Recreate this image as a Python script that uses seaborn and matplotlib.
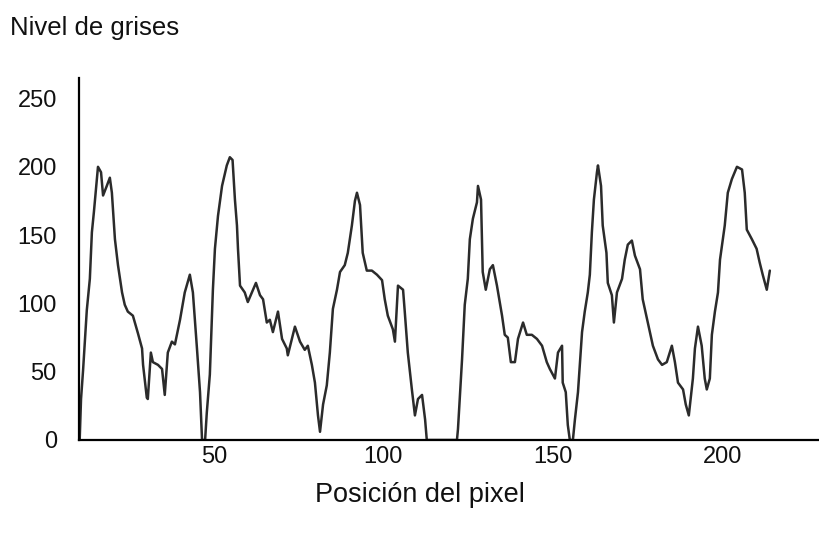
import matplotlib
matplotlib.use("Agg")
import matplotlib.pyplot as plt
import seaborn as sns
import pandas as pd

# Pixel position along the profile and grey level
posicion = [10.4, 10.8, 11.4, 12.5, 13.4, 14.0, 14.6, 15.5, 15.8, 16.7, 17.3, 18.4, 19.3, 19.9,
            20.8, 21.7, 22.9, 23.7, 24.6, 26.1, 27.6, 28.8, 29.1, 30.2, 30.5, 31.4, 32.0, 33.5,
            34.7, 35.5, 36.4, 37.6, 38.5, 40.0, 41.4, 42.9, 43.8, 45.0, 45.9, 46.5, 47.4, 47.9,
            48.8, 49.7, 50.3, 51.2, 52.4, 53.8, 54.7, 55.5, 56.2, 56.8, 57.1, 57.7, 59.1, 60.0,
            61.2, 62.4, 63.6, 64.5, 65.6, 66.5, 67.4, 68.9, 70.1, 71.5, 71.8, 73.9, 75.4, 76.8,
            77.7, 78.9, 79.8, 80.7, 81.3, 82.2, 83.3, 84.2, 85.1, 86.3, 87.2, 88.6, 89.5, 90.7,
            91.6, 92.2, 93.1, 93.9, 95.1, 96.6, 98.1, 99.6, 100.4, 101.3, 102.8, 103.4, 104.3,
            105.8, 106.3, 107.2, 108.4, 109.3, 110.2, 111.4, 112.3, 112.8, 121.7, 122.0, 123.2,
            124.0, 124.9, 125.5, 126.4, 127.6, 127.9, 128.8, 129.3, 130.2, 131.4, 132.3, 133.5,
            135.0, 135.8, 136.7, 137.6, 138.8, 139.7, 141.2, 142.3, 143.8, 145.3, 146.8, 148.2,
            149.1, 150.6, 151.5, 152.7, 152.9, 153.8, 154.4, 155.0, 155.9, 156.5, 157.4, 158.6,
            159.4, 160.3, 160.9, 161.5, 162.1, 163.0, 163.3, 164.2, 164.7, 165.8, 166.2, 167.4,
            168.0, 168.9, 170.4, 171.2, 172.1, 173.3, 174.2, 175.7, 176.5, 178.0, 179.5, 181.0,
            182.2, 183.6, 185.1, 186.0, 186.9, 188.4, 189.2, 190.1, 191.3, 191.9, 192.8, 193.9,
            194.8, 195.4, 196.3, 196.9, 197.8, 198.7, 199.3, 200.7, 201.6, 202.8, 204.3, 205.8,
            206.6, 207.2, 208.7, 210.1, 211.0, 211.9, 213.1, 214.0]
nivel = [0, 30, 51, 95, 118, 152, 167, 192, 200, 196, 179, 186, 192, 181,
         147, 128, 108, 99, 94, 91, 78, 67, 55, 31, 30, 64, 57, 55,
         52, 33, 64, 72, 70, 88, 108, 121, 108, 67, 35, 0, 0, 20,
         48, 110, 140, 164, 186, 201, 207, 205, 176, 157, 140, 113, 108, 101,
         108, 115, 106, 103, 86, 88, 79, 94, 74, 67, 62, 83, 72, 66,
         69, 55, 42, 18, 6, 26, 40, 64, 96, 110, 123, 128, 137, 157,
         175, 181, 172, 137, 124, 124, 121, 117, 103, 91, 81, 72, 113,
         110, 94, 64, 37, 18, 30, 33, 15, 0, 0, 8, 59,
         99, 118, 147, 162, 174, 186, 176, 123, 110, 125, 128, 113,
         91, 77, 75, 57, 57, 74, 86, 77, 77, 74, 69, 57,
         52, 45, 64, 69, 42, 35, 11, 0, 0, 15, 35, 79,
         94, 108, 121, 152, 176, 196, 201, 186, 157, 137, 115, 106,
         86, 108, 118, 132, 143, 146, 135, 125, 103, 86, 69, 59,
         55, 57, 69, 57, 42, 37, 26, 18, 45, 67, 83, 69,
         45, 37, 45, 77, 94, 108, 132, 157, 181, 191, 200, 198,
         181, 154, 147, 140, 130, 121, 110, 124]

ticks_x = [50, 100, 150, 200]
ticks_y = [0, 50, 100, 150, 200, 250]

df = pd.DataFrame({"Posición del pixel": posicion, "Nivel de grises": nivel})

sns.set_style("white")
plt.rcParams["font.family"] = ["Liberation Sans", "DejaVu Sans"]

fig = plt.figure(figsize=(8.2, 5.37), dpi=100)
ax = fig.add_axes([79/820, 97/537, 741/820, 362/537])

sns.lineplot(data=df, x="Posición del pixel", y="Nivel de grises", ax=ax,
             color="#2b2b2b", linewidth=1.8, estimator=None, sort=False)

ax.set_xlim(10.2, 228.8)
ax.set_ylim(0, 265)
ax.set_xticks(ticks_x)
ax.set_yticks(ticks_y)
ax.set_xticklabels([str(t) for t in ticks_x])
ax.set_yticklabels([str(t) for t in ticks_y])
ax.tick_params(axis="both", length=0, labelsize=17, colors="#111111")
ax.tick_params(axis="x", pad=4)
ax.tick_params(axis="y", pad=16)
ax.set_xlabel("")
ax.set_ylabel("")

for side in ["top", "right"]:
    ax.spines[side].set_visible(False)
for side in ["left", "bottom"]:
    ax.spines[side].set_color("#000000")
    ax.spines[side].set_linewidth(1.6)

fig.text(420/820, 1 - 495/537, "Posición del pixel", ha="center", va="center",
         fontsize=19.5, color="#111111")
fig.text(10/820, 1 - 28/537, "Nivel de grises", ha="left", va="center",
         fontsize=18.5, color="#111111")

fig.savefig("out.png", dpi=100)
